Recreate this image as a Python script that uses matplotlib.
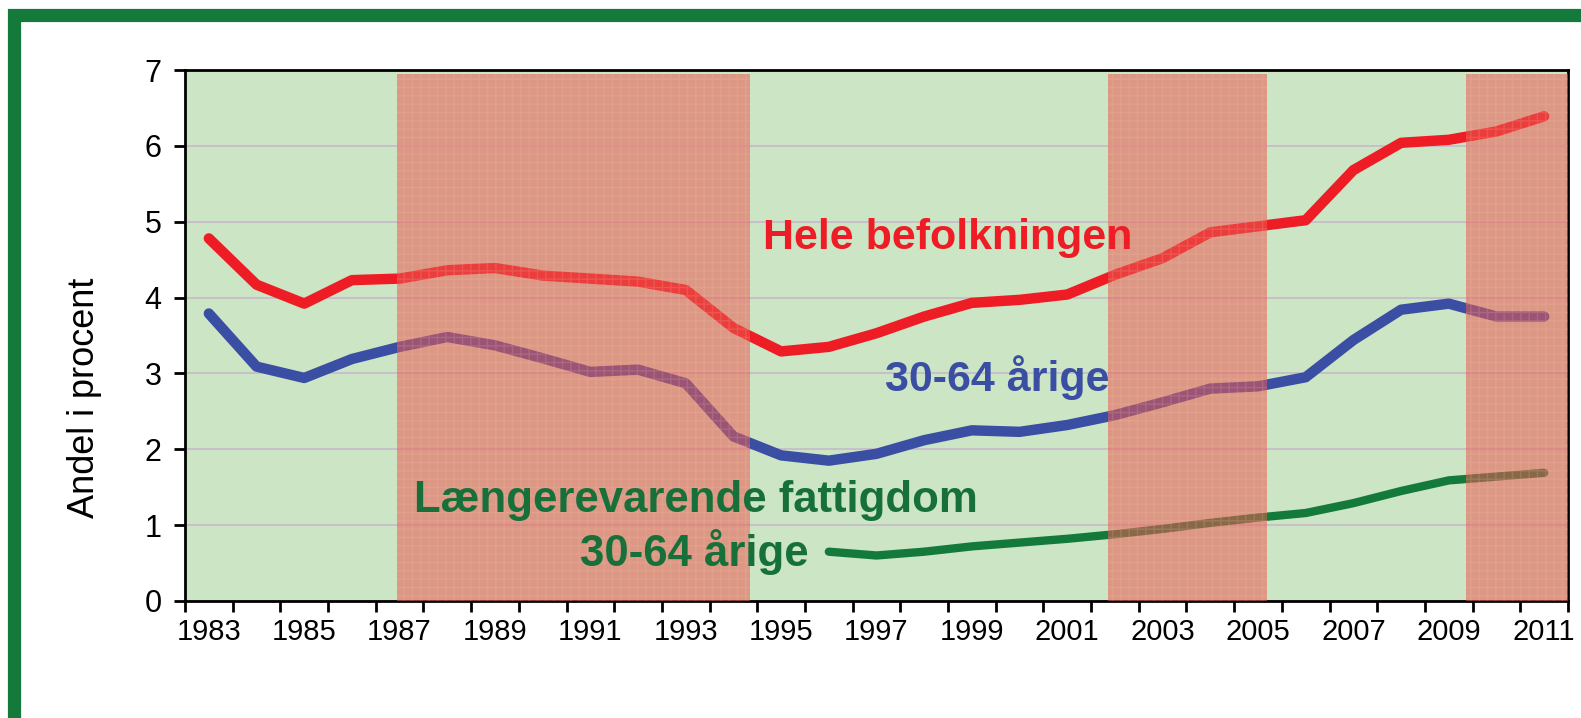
import matplotlib.pyplot as plt
from matplotlib.patches import Rectangle

years = list(range(1983, 2012))
hele = [4.78, 4.17, 3.92, 4.23, 4.25, 4.36, 4.39, 4.29, 4.25, 4.21,
        4.10, 3.60, 3.29, 3.35, 3.53, 3.75, 3.93, 3.97, 4.04, 4.30,
        4.52, 4.86, 4.94, 5.02, 5.68, 6.04, 6.08, 6.19, 6.39]
aarige = [3.79, 3.09, 2.94, 3.19, 3.35, 3.48, 3.37, 3.20, 3.02, 3.05,
          2.87, 2.17, 1.92, 1.85, 1.94, 2.12, 2.25, 2.23, 2.32, 2.45,
          2.62, 2.80, 2.83, 2.95, 3.44, 3.84, 3.92, 3.75, 3.75]
fattig_years = list(range(1996, 2012))
fattig = [0.65, 0.60, 0.65, 0.72, 0.77, 0.82, 0.88, 0.95, 1.03, 1.10,
          1.16, 1.29, 1.45, 1.59, 1.64, 1.69]
# shaded periods (start, end) in year units
perioder = [(1986.95, 1994.35), (2001.85, 2005.19), (2009.36, 2011.5)]
tick_labels = [str(y) for y in range(1983, 2012, 2)]

RED = '#ee1c25'
BLUE = '#3a4ea3'
GREEN = '#137a3c'


def main():
    plt.rcParams['font.family'] = ['Liberation Sans', 'DejaVu Sans']
    fig = plt.figure(figsize=(15.81, 7.18), dpi=100)
    ax = fig.add_axes([185 / 1581, 117 / 718, 1383 / 1581, 531 / 718])
    ax.set_facecolor('#cce5c4')

    kw = dict(solid_capstyle='round', solid_joinstyle='round', zorder=2)
    ax.plot(years, hele, color=RED, lw=7.5, **kw)
    ax.plot(years, aarige, color=BLUE, lw=7.5, **kw)
    ax.plot(fattig_years, fattig, color=GREEN, lw=6, **kw)

    for start, end in perioder:
        ax.fill_between([start, end], 0, 6.95, facecolor='#ec5a52',
                        alpha=0.55, lw=0, zorder=3)
        ax.fill_between([start, end], 0, 6.95, facecolor='none',
                        edgecolor='#f2c9a8', hatch='++', lw=0, alpha=0.18,
                        zorder=3)

    ax.set_xlim(1982.5, 2011.5)
    ax.set_ylim(0, 7)
    ax.yaxis.grid(True, color='#c8b9c9', lw=1.2, zorder=1)
    ax.set_axisbelow(True)

    ax.set_yticks(range(0, 8))
    ax.tick_params(axis='y', length=8, width=2, pad=9, labelsize=22)
    ax.set_xticks(range(1983, 2012, 2))
    ax.set_xticklabels(tick_labels)
    ax.set_xticks([y + 0.5 for y in range(1982, 2012)], minor=True)
    ax.tick_params(axis='x', which='major', length=0, pad=12, labelsize=21)
    ax.tick_params(axis='x', which='minor', length=8, width=2)
    for sp in ax.spines.values():
        sp.set_linewidth(2)
        sp.set_color('black')

    ax.text(1998.5, 4.79, 'Hele befolkningen', color=RED, fontsize=31,
            fontweight='bold', ha='center', va='center', zorder=4)
    ax.text(1999.53, 2.94, '30-64 årige', color=BLUE, fontsize=31,
            fontweight='bold', ha='center', va='center', zorder=4)
    ax.text(1993.21, 1.33, 'Længerevarende fattigdom', color='#17703a',
            fontsize=31.5, fontweight='bold', ha='center', va='center',
            zorder=4)
    ax.text(1993.19, 0.65, '30-64 årige', color='#17703a', fontsize=31.5,
            fontweight='bold', ha='center', va='center', zorder=4)

    fig.text(84 / 1581, 1 - 398 / 718, 'Andel i procent', rotation=90,
             fontsize=26, ha='center', va='center')

    frame = Rectangle((13.5 / 1581, -2 / 718), 1.1, (718 - 14.5 + 2) / 718,
                      transform=fig.transFigure, fill=False,
                      edgecolor=GREEN, lw=9.5)
    fig.add_artist(frame)

    fig.savefig('out.png', dpi=100)


if __name__ == '__main__':
    main()
